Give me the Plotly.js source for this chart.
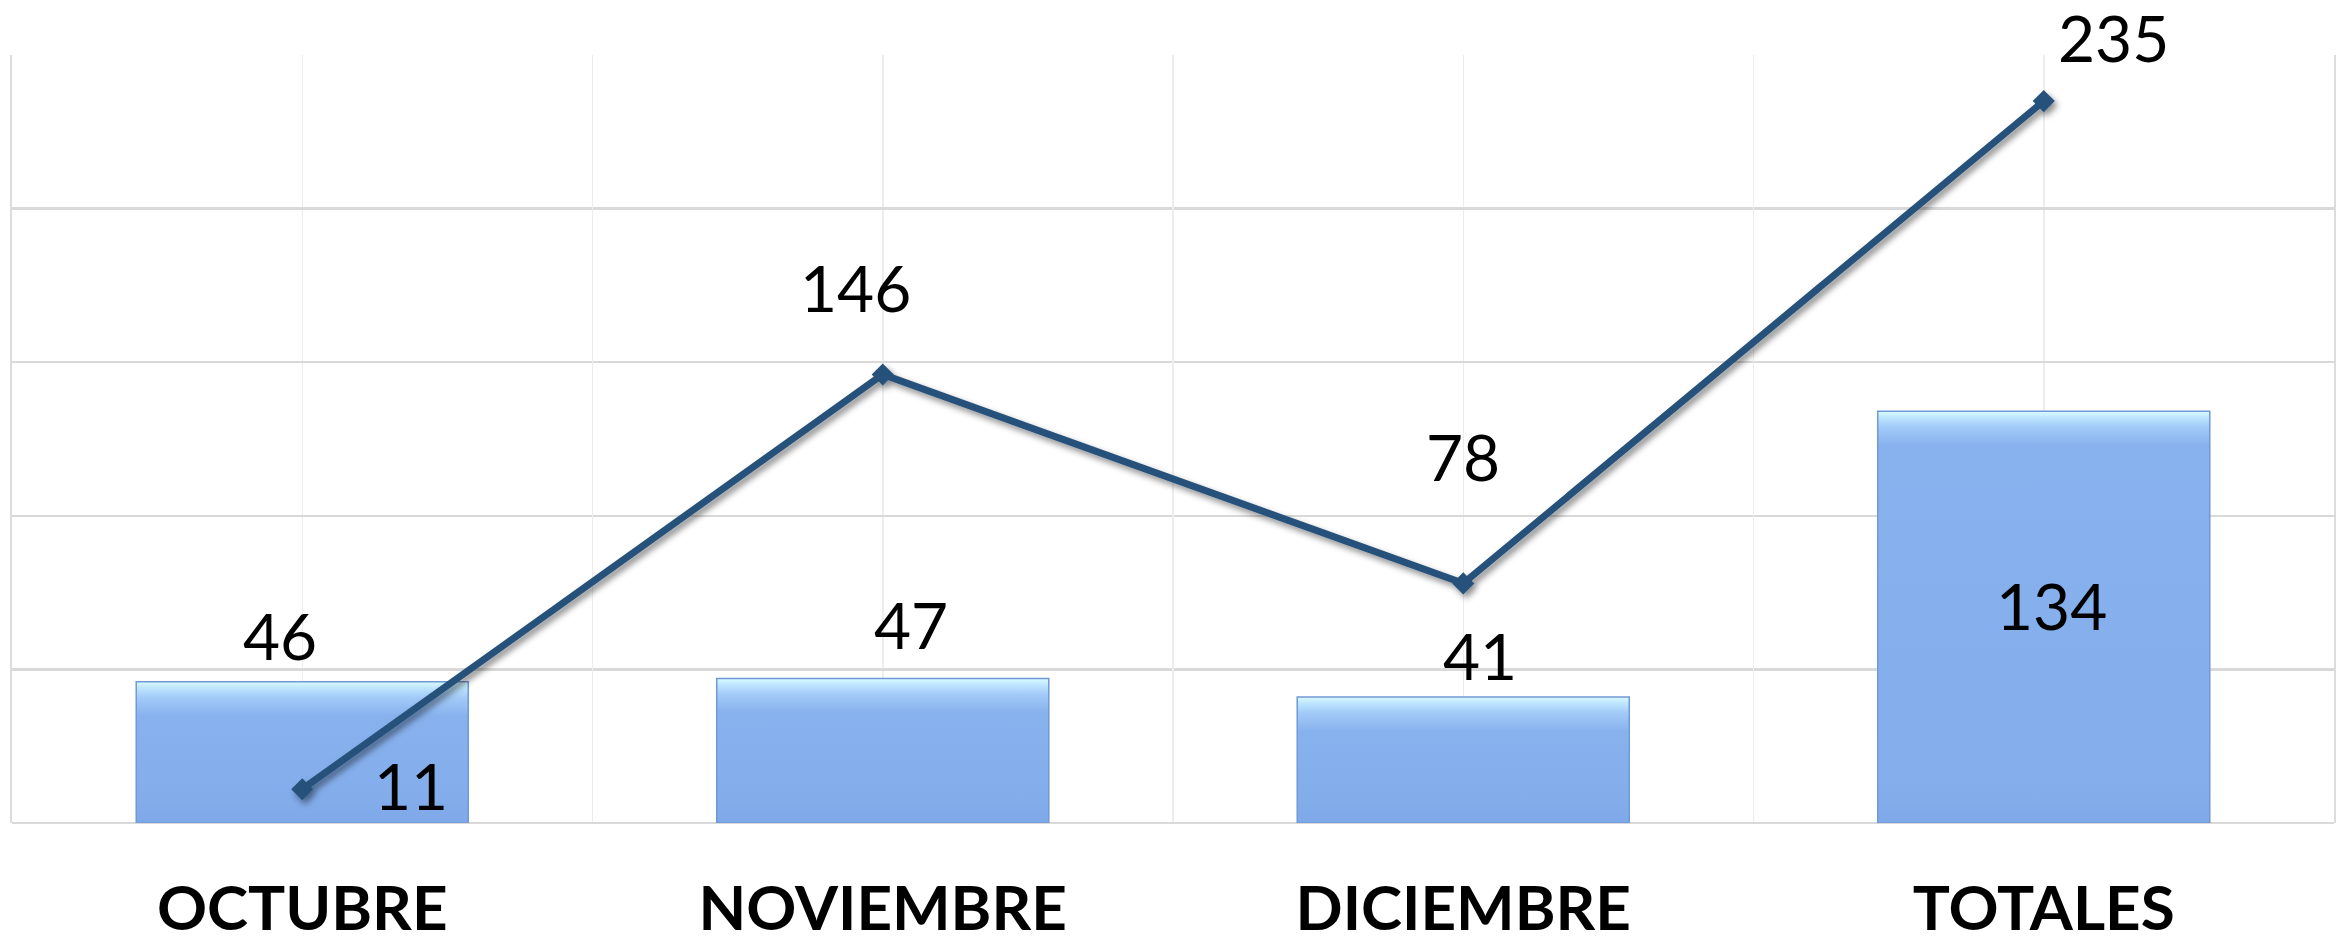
<!DOCTYPE html>
<html>
<head>
<meta charset="utf-8">
<script src="https://cdn.plot.ly/plotly-3.0.1.min.js"></script>
<style>
  html, body { margin: 0; padding: 0; background: #ffffff; }
  #chart { width: 2346px; height: 945px; }
</style>
</head>
<body>
<div id="chart"></div>
<script>
// ---- data ----
const categories = ['OCTUBRE', 'NOVIEMBRE', 'DICIEMBRE', 'TOTALES'];
const barValues  = [46, 47, 41, 134];
const lineValues = [11, 146, 78, 235];

// ---- label placement (pixel offsets from each mark) ----
const barLabelPlace  = [ {dx: -22, dy: 46, mid: false}, {dx: 28, dy: 54, mid: false}, {dx: 17, dy: 42, mid: false}, {dx: 8, dy: 12, mid: true} ];
const lineLabelPlace = [ {dx: 109, dy: 4}, {dx: -27, dy: 87}, {dx: 0, dy: 127}, {dx: 70, dy: 64} ];

const labelFont = { family: 'Lato, "Liberation Sans", sans-serif', size: 64, color: '#000000' };

const annotations = [];
categories.forEach((c, i) => {
  const p = barLabelPlace[i];
  annotations.push({
    x: c, y: p.mid ? barValues[i] / 2 : barValues[i], xref: 'x', yref: 'y',
    text: String(barValues[i]), showarrow: false, borderpad: 0,
    xshift: p.dx, yshift: p.dy, font: labelFont
  });
  const q = lineLabelPlace[i];
  annotations.push({
    x: c, y: lineValues[i], xref: 'x', yref: 'y',
    text: String(lineValues[i]), showarrow: false, borderpad: 0,
    xshift: q.dx, yshift: q.dy, font: labelFont
  });
});

const traces = [
  {
    type: 'bar', x: categories, y: barValues, width: 0.572,
    marker: { color: '#84AEEB', line: { color: '#7199D6', width: 1.5 } },
    hoverinfo: 'none', showlegend: false, cliponaxis: false
  },
  {
    type: 'scatter', mode: 'lines+markers', x: categories, y: lineValues,
    line: { color: '#27517A', width: 7 },
    marker: { symbol: 'diamond', size: 17, color: '#27517A' },
    hoverinfo: 'none', showlegend: false, cliponaxis: false
  },
  // invisible trace on overlay axis to draw boundary grid lines
  {
    type: 'scatter', mode: 'markers', x: categories, y: lineValues,
    xaxis: 'x2', yaxis: 'y', marker: { opacity: 0 }, hoverinfo: 'none', showlegend: false
  }
];

const layout = {
  width: 2346, height: 945,
  margin: { l: 12, r: 12, t: 55, b: 122 },
  paper_bgcolor: '#ffffff', plot_bgcolor: '#ffffff',
  showlegend: false,
  xaxis: {
    type: 'category', categoryorder: 'array', categoryarray: categories,
    range: [-0.5, 3.5],
    showgrid: true, gridcolor: '#EDEDED', gridwidth: 1.5,
    zeroline: false, showline: false, ticks: '',
    tickfont: { family: 'Lato, "Liberation Sans", sans-serif', size: 62, color: '#000000', weight: 'bold' },
    ticklabelstandoff: 44
  },
  xaxis2: {
    type: 'category', categoryorder: 'array', categoryarray: categories,
    overlaying: 'x', matches: 'x', range: [-0.5, 3.5],
    tickson: 'boundaries', showgrid: true, gridcolor: '#EDEDED', gridwidth: 1.5,
    showticklabels: false, ticks: '', zeroline: false, showline: false
  },
  yaxis: {
    range: [0, 250], dtick: 50, tick0: 0,
    showgrid: true, gridcolor: '#D9D9D9', gridwidth: 2.5,
    showticklabels: false, ticks: '', zeroline: true, zerolinecolor: '#D9D9D9', zerolinewidth: 2.5,
    showline: true, mirror: true, linecolor: '#DCDCDC', linewidth: 2
  },
  annotations: annotations
};

Plotly.newPlot('chart', traces, layout, { displayModeBar: false, staticPlot: true }).then(function (gd) {
  const svg = gd.querySelector('svg.main-svg');
  const NS = 'http://www.w3.org/2000/svg';
  let defs = svg.querySelector('defs');
  if (!defs) { defs = document.createElementNS(NS, 'defs'); svg.insertBefore(defs, svg.firstChild); }

  // soft drop shadow for the line
  const f = document.createElementNS(NS, 'filter');
  f.setAttribute('id', 'lineShadow');
  f.setAttribute('filterUnits', 'userSpaceOnUse');
  f.setAttribute('x', '0'); f.setAttribute('y', '0');
  f.setAttribute('width', '2346'); f.setAttribute('height', '945');
  const fe = document.createElementNS(NS, 'feDropShadow');
  fe.setAttribute('dx', '3'); fe.setAttribute('dy', '4'); fe.setAttribute('stdDeviation', '3');
  fe.setAttribute('flood-color', '#000000'); fe.setAttribute('flood-opacity', '0.45');
  f.appendChild(fe);
  defs.appendChild(f);
  const lineTrace = gd.querySelector('.scatterlayer .trace');
  if (lineTrace) lineTrace.setAttribute('filter', 'url(#lineShadow)');

  // bevel-like vertical gradient on bars
  gd.querySelectorAll('.barlayer .point path').forEach(function (p, i) {
    const bb = p.getBBox();
    const h = bb.height || 1;
    const g = document.createElementNS(NS, 'linearGradient');
    g.setAttribute('id', 'barGrad' + i);
    g.setAttribute('x1', '0'); g.setAttribute('y1', '0');
    g.setAttribute('x2', '0'); g.setAttribute('y2', '1');
    const stops = [
      [0, '#D9FCFF'], [6 / h, '#BFE6FF'], [16 / h, '#A2CAF8'], [34 / h, '#88B2EE'],
      [Math.max(34 / h, 1 - 34 / h), '#84AEEB'], [1, '#7EA8E8']
    ];
    stops.forEach(function (s) {
      const st = document.createElementNS(NS, 'stop');
      st.setAttribute('offset', Math.min(1, s[0]));
      st.setAttribute('stop-color', s[1]);
      g.appendChild(st);
    });
    defs.appendChild(g);
    p.style.fill = 'url(#barGrad' + i + ')';
  });
});
</script>
</body>
</html>
